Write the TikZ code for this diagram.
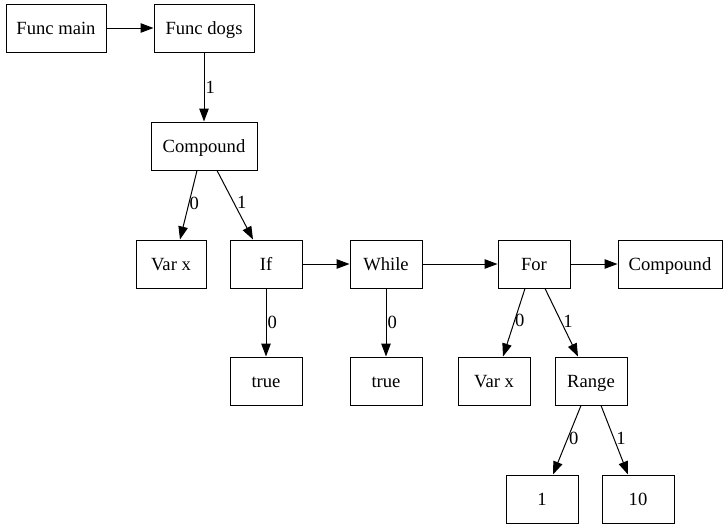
\documentclass[tikz,border=0pt]{standalone}
\usepackage{fontspec}
\setmainfont{Liberation Serif}
\usetikzlibrary{arrows.meta}
\begin{document}
\begin{tikzpicture}[x=1pt,y=-1pt,
  box/.style={draw,line width=1pt,minimum width=72pt,minimum height=48pt,inner sep=0pt,
    text height=12.5pt,text depth=0pt,font=\fontsize{18.6}{21}\selectfont},
  edge/.style={line width=1pt,-{Triangle[length=13pt,width=9.5pt]}},
  lbl/.style={anchor=west,inner sep=1pt,font=\fontsize{18.6}{21}\selectfont}]
\useasboundingbox (0,0) rectangle (728,528);
% nodes
\node[box,minimum width=100pt] (fmain) at (56,28) {Func main};
\node[box,minimum width=100pt] (fdogs) at (204,28) {Func dogs};
\node[box,minimum width=106pt] (cmp) at (204,146) {Compound};
\node[box,minimum width=70pt] (varx) at (171,264) {Var x};
\node[box] (ifn) at (266,264) {If};
\node[box] (whl) at (386,264) {While};
\node[box] (forn) at (534,264) {For};
\node[box,minimum width=104pt] (cmp2) at (670,264) {Compound};
\node[box] (true1) at (266,381) {true};
\node[box] (true2) at (386,381) {true};
\node[box] (varx2) at (494,381) {Var x};
\node[box] (rng) at (591,381) {Range};
\node[box] (one) at (542,499) {1};
\node[box] (ten) at (638,499) {10};
% sequence edges
\draw[edge] (fmain) -- (fdogs);
\draw[edge] (ifn) -- (whl);
\draw[edge] (whl) -- (forn);
\draw[edge] (forn) -- (cmp2);
% child edges
\draw[edge] (fdogs) -- node[lbl,pos=0.5] {1} (cmp);
\draw[edge] ([xshift=-7pt]cmp.south) -- node[lbl,pos=0.47,xshift=-1pt] {0} ([xshift=9pt]varx.north);
\draw[edge] ([xshift=13pt]cmp.south) -- node[lbl,pos=0.46,xshift=2pt] {1} ([xshift=-13pt]ifn.north);
\draw[edge] (ifn) -- node[lbl,pos=0.5] {0} (true1);
\draw[edge] (whl) -- node[lbl,pos=0.5] {0} (true2);
\draw[edge] ([xshift=-9pt]forn.south) -- node[lbl,pos=0.47,xshift=-1pt] {0} ([xshift=9pt]varx2.north);
\draw[edge] ([xshift=11pt]forn.south) -- node[lbl,pos=0.48,xshift=1pt] {1} ([xshift=-13pt]rng.north);
\draw[edge] ([xshift=-10pt]rng.south) -- node[lbl,pos=0.48,xshift=0pt] {0} ([xshift=11pt]one.north);
\draw[edge] ([xshift=10pt]rng.south) -- node[lbl,pos=0.48,xshift=1pt] {1} ([xshift=-10pt]ten.north);
\end{tikzpicture}
\end{document}
